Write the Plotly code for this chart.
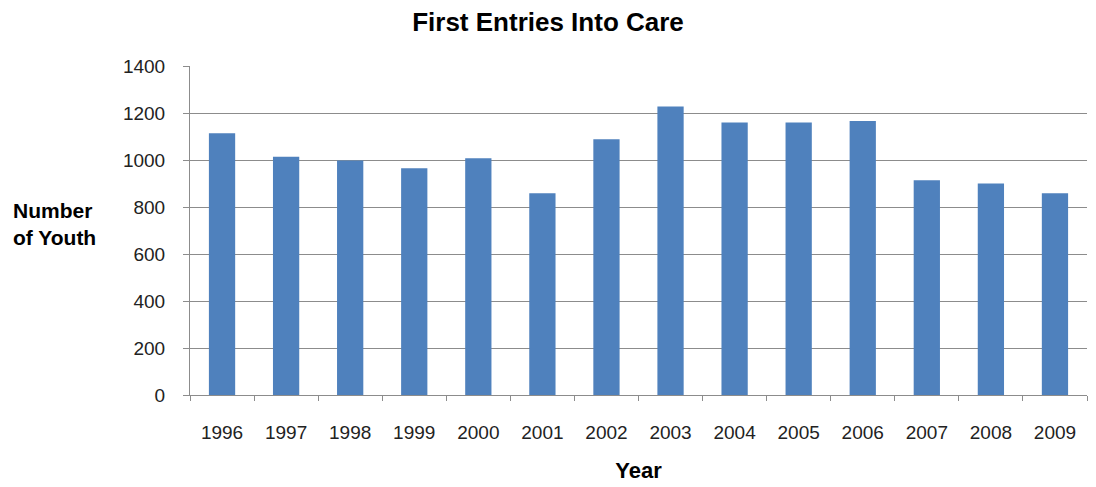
import plotly.graph_objects as go

years = ["1996", "1997", "1998", "1999", "2000", "2001", "2002",
         "2003", "2004", "2005", "2006", "2007", "2008", "2009"]
first_entries = [1114, 1014, 998, 965, 1007, 858, 1088,
                 1228, 1160, 1160, 1166, 914, 900, 858]
y_ticks = [0, 200, 400, 600, 800, 1000, 1200, 1400]

fig = go.Figure(
    go.Bar(
        x=years,
        y=first_entries,
        marker=dict(color="#4F81BD", line=dict(width=0)),
    )
)

fig.update_layout(
    width=1096,
    height=487,
    margin=dict(l=190, r=9, t=66, b=92),
    paper_bgcolor="white",
    plot_bgcolor="white",
    bargap=0.59,
    showlegend=False,
    font=dict(family="Liberation Sans, Arial, sans-serif", size=19, color="#222"),
    title=dict(
        text="<b>First Entries Into Care</b>",
        x=0.5,
        xref="container",
        xanchor="center",
        y=0.955,
        yanchor="middle",
        font=dict(size=26, color="#000"),
    ),
    annotations=[
        dict(
            text="<b>Number<br>of Youth</b>",
            xref="paper", yref="paper",
            x=-0.151, y=0.52,
            xanchor="center", yanchor="middle",
            showarrow=False, align="left",
            font=dict(size=21, color="#000"),
        ),
    ],
)

fig.update_xaxes(
    type="category",
    showline=True,
    linecolor="#8c8c8c",
    linewidth=1,
    ticks="outside",
    tickson="boundaries",
    ticklen=5,
    tickcolor="#8c8c8c",
    ticklabelstandoff=20,
    showgrid=False,
    automargin=False,
    title=dict(text="<b>Year</b>", font=dict(size=22, color="#000"), standoff=20),
)

fig.update_yaxes(
    range=[0, 1400],
    tickvals=y_ticks,
    showline=True,
    linecolor="#8c8c8c",
    linewidth=1,
    ticks="outside",
    ticklen=6,
    tickcolor="#8c8c8c",
    ticklabelstandoff=14,
    showgrid=True,
    gridcolor="#8c8c8c",
    gridwidth=1,
    zeroline=False,
    automargin=False,
)

fig.write_html("out.html")
